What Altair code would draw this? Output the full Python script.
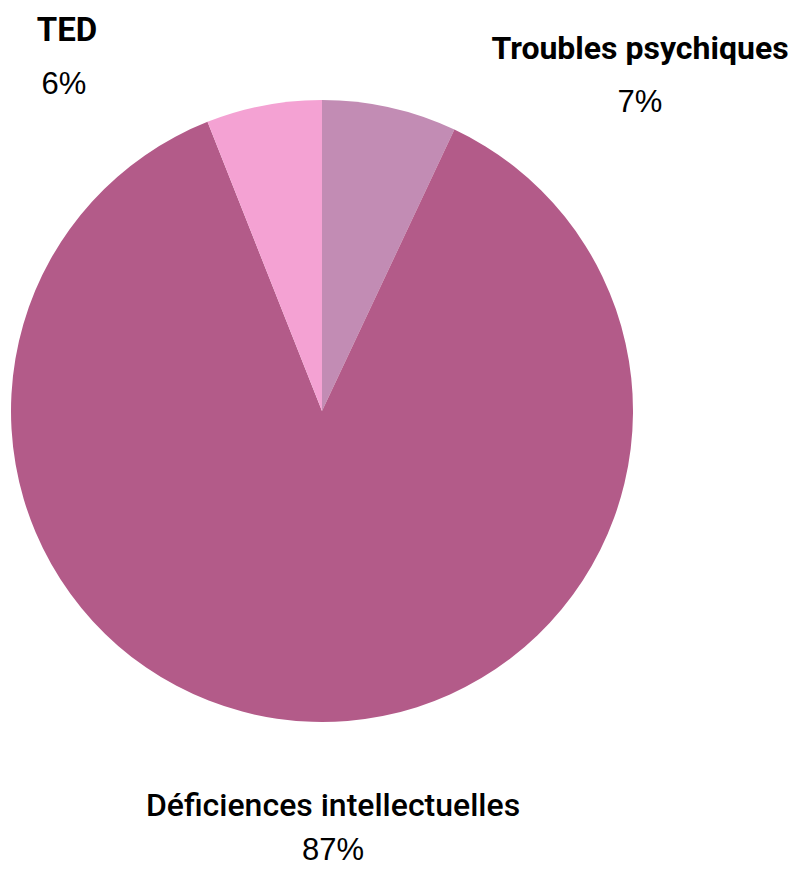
import altair as alt
import pandas as pd

categories = ["Troubles psychiques", "Déficiences intellectuelles", "TED"]
values = [7, 87, 6]
pct_labels = ["7%", "87%", "6%"]
colors = ["#C28CB4", "#B35B89", "#F4A2D3"]

df = pd.DataFrame({"cat": categories, "val": values, "pct": pct_labels,
                   "ord": list(range(len(categories)))})

pie = alt.Chart(df).mark_arc(radius=311, stroke=None).encode(
    theta=alt.Theta("val:Q", stack=True),
    order=alt.Order("ord:Q"),
    color=alt.Color("cat:N", scale=alt.Scale(domain=categories, range=colors), legend=None),
    x=alt.value(314),
    y=alt.value(403),
)

def label(idx, x, y, weight, size, font, text_field):
    sub = df[df["ord"] == idx]
    return alt.Chart(sub).mark_text(
        font=font, fontSize=size, fontWeight=weight,
        align="center", baseline="alphabetic", color="#000000"
    ).encode(text=f"{text_field}:N", x=alt.value(x), y=alt.value(y))

layers = [
    pie,
    label(2, 59, 33, 700, 33, "Roboto", "cat"),
    label(2, 56, 86, 400, 31, "Liberation Sans", "pct"),
    label(0, 632, 51, 700, 32, "Roboto", "cat"),
    label(0, 632, 104, 400, 31, "Liberation Sans", "pct"),
    label(1, 325, 808, 500, 32, "Roboto", "cat"),
    label(1, 325, 852, 400, 31, "Liberation Sans", "pct"),
]

chart = alt.layer(*layers).properties(
    width=782, height=862, padding=0,
    autosize=alt.AutoSizeParams(type="none"),
).configure_view(strokeWidth=0)

chart.save("out.html", embed_options={"renderer": "svg", "actions": False})
